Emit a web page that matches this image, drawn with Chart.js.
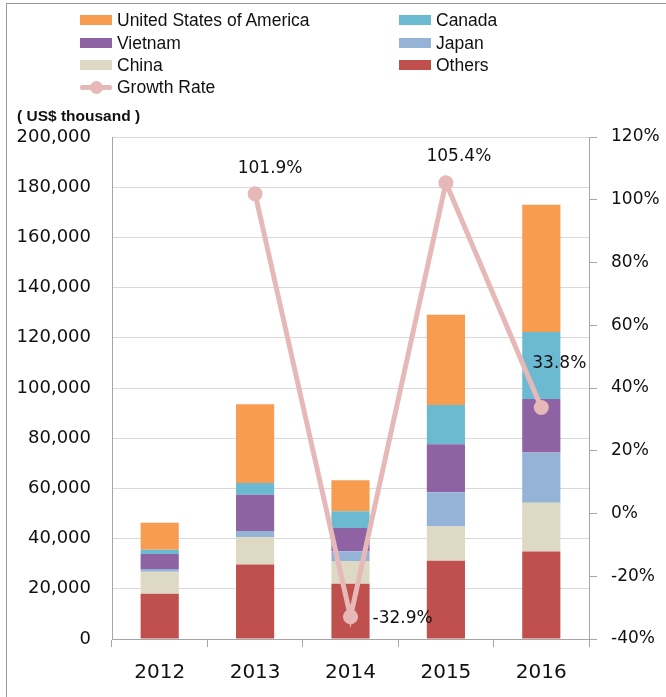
<!DOCTYPE html>
<html>
<head>
<meta charset="utf-8">
<script src="https://cdn.jsdelivr.net/npm/chart.js@4/dist/chart.umd.min.js"></script>
<style>
    html, body { margin: 0; padding: 0; background: #fff; }
    #wrap { position: relative; width: 666px; height: 697px; overflow: hidden; }
    #frame { position: absolute; left: 6px; top: 3px; width: 680px; height: 720px; border-left: 1px solid #9a9a9a; border-top: 1px solid #9a9a9a; }
    canvas { position: absolute; left: 0; top: 0; }
    .leg { position: absolute; font-family: "Liberation Sans", Arial, sans-serif; font-size: 17.5px; color: #111; line-height: 20px; white-space: nowrap; }
    .sw { position: absolute; width: 32px; height: 10px; }
    #unit { position: absolute; left: 17px; top: 107px; font-family: "Liberation Sans", Arial, sans-serif; font-weight: bold; font-size: 15.5px; color: #111; white-space: nowrap; }
</style>
</head>
<body>
<div id="wrap">
    <div id="frame"></div>
    <canvas id="chart" width="666" height="697"></canvas>
    <div id="legend"></div>
    <div id="unit">( US$ thousand )</div>
</div>
<script>
// ===========================
// Data
// ===========================
const years = ['2012', '2013', '2014', '2015', '2016'];

const others  = [18000, 29700, 22000, 31200, 34900];
const china   = [8800, 10900, 9100, 13600, 19400];
const japan   = [1100, 2400, 3900, 13700, 20000];
const vietnam = [6000, 14500, 9200, 19100, 21300];
const canada  = [1700, 4700, 6700, 15600, 26700];
const usa     = [10700, 31300, 12300, 36000, 50700];

const growthRate = [null, 101.9, -32.9, 105.4, 33.8];

const barSeries = [
    { label: 'Others', data: others, color: '#c0504d' },
    { label: 'China', data: china, color: '#ddd9c4' },
    { label: 'Japan', data: japan, color: '#95b3d7' },
    { label: 'Vietnam', data: vietnam, color: '#8e62a3' },
    { label: 'Canada', data: canada, color: '#6cbad1' },
    { label: 'United States of America', data: usa, color: '#f79c51' },
];

const lineColor = '#e6b9b8';
const tickFont = { family: '"DejaVu Sans", Verdana, sans-serif', size: 18 };
const axisGrey = '#a6a6a6';

// ===========================
// Legend (two columns, like the original)
// ===========================
const legendItems = [
    { label: 'United States of America', color: '#f79c51', x: 80, y: 20 },
    { label: 'Canada', color: '#6cbad1', x: 399, y: 20 },
    { label: 'Vietnam', color: '#8e62a3', x: 80, y: 42.5 },
    { label: 'Japan', color: '#95b3d7', x: 399, y: 42.5 },
    { label: 'China', color: '#ddd9c4', x: 80, y: 65 },
    { label: 'Others', color: '#c0504d', x: 399, y: 65 },
];

const legendEl = document.getElementById('legend');
legendItems.forEach(item => {
    const sw = document.createElement('div');
    sw.className = 'sw';
    sw.style.left = item.x + 'px';
    sw.style.top = (item.y - 5) + 'px';
    sw.style.background = item.color;
    legendEl.appendChild(sw);

    const txt = document.createElement('div');
    txt.className = 'leg';
    txt.style.left = (item.x + 37) + 'px';
    txt.style.top = (item.y - 10) + 'px';
    txt.textContent = item.label;
    legendEl.appendChild(txt);
});

// growth rate legend entry: thick line with a round marker
const gl = document.createElement('div');
gl.style.cssText = 'position:absolute;left:80px;top:85px;width:32px;height:5px;background:' + lineColor + ';border-radius:2px;';
legendEl.appendChild(gl);
const gd = document.createElement('div');
gd.style.cssText = 'position:absolute;left:90px;top:81px;width:13px;height:13px;border-radius:50%;background:' + lineColor + ';';
legendEl.appendChild(gd);
const gt = document.createElement('div');
gt.className = 'leg';
gt.style.left = '117px';
gt.style.top = '77px';
gt.textContent = 'Growth Rate';
legendEl.appendChild(gt);

// ===========================
// Growth rate labels
// ===========================
const labelOffsets = [null, { dx: 15, dy: -25, align: 'center' }, { dx: 22, dy: 2, align: 'left' },
    { dx: 13, dy: -26, align: 'center' }, { dx: 18, dy: -44, align: 'center' }];

const growthLabels = {
    id: 'growthLabels',
    afterDatasetsDraw(chart) {
        const idx = chart.data.datasets.findIndex(d => d.type === 'line');
        const meta = chart.getDatasetMeta(idx);
        const ctx = chart.ctx;
        ctx.save();
        ctx.font = '17px "DejaVu Sans", Verdana, sans-serif';
        ctx.fillStyle = '#111';
        ctx.textBaseline = 'middle';
        meta.data.forEach((pt, i) => {
            const v = growthRate[i];
            if (v === null || !labelOffsets[i]) return;
            const o = labelOffsets[i];
            ctx.textAlign = o.align;
            ctx.fillText(v.toFixed(1) + '%', pt.x + o.dx, pt.y + o.dy);
        });
        ctx.restore();
    },
};

// ===========================
// Chart
// ===========================
const datasets = barSeries.map(s => ({
    type: 'bar',
    label: s.label,
    data: s.data,
    backgroundColor: s.color,
    borderWidth: 0,
    barPercentage: 0.4,
    categoryPercentage: 1,
    yAxisID: 'y',
    stack: 'exports',
    order: 1,
}));

datasets.push({
    type: 'line',
    label: 'Growth Rate',
    data: growthRate,
    borderColor: lineColor,
    backgroundColor: lineColor,
    borderWidth: 5,
    pointRadius: 7.5,
    pointHoverRadius: 7.5,
    pointBorderWidth: 0,
    tension: 0,
    yAxisID: 'y1',
    order: 0,
});

new Chart(document.getElementById('chart'), {
    data: { labels: years, datasets },
    plugins: [growthLabels],
    options: {
        responsive: false,
        animation: false,
        layout: { padding: { top: 137, left: 0, right: 0, bottom: 0 } },
        plugins: {
            legend: { display: false },
            tooltip: { enabled: false },
        },
        scales: {
            x: {
                stacked: true,
                offset: true,
                grid: {
                    offset: true,
                    drawOnChartArea: false,
                    drawTicks: true,
                    tickLength: 8,
                    color: axisGrey,
                },
                border: { color: axisGrey, width: 1 },
                ticks: { font: { ...tickFont, size: 20 }, color: '#111', padding: 14 },
                afterFit: s => { s.height = 58; },
            },
            y: {
                stacked: true,
                position: 'left',
                min: 0,
                max: 200000,
                ticks: {
                    stepSize: 20000,
                    font: tickFont,
                    color: '#111',
                    padding: 21,
                    callback: v => v.toLocaleString('en-US'),
                },
                grid: { color: '#d9d9d9', drawTicks: false },
                border: { color: axisGrey, width: 1 },
                afterFit: s => { s.width = 112; },
            },
            y1: {
                position: 'right',
                min: -40,
                max: 120,
                ticks: {
                    stepSize: 20,
                    font: { ...tickFont, size: 17 },
                    color: '#111',
                    padding: 14,
                    callback: v => v + '%',
                },
                grid: { drawOnChartArea: false, drawTicks: true, tickLength: 8, color: axisGrey },
                border: { color: axisGrey, width: 1 },
                afterFit: s => { s.width = 77; },
            },
        },
    },
});
</script>
</body>
</html>
